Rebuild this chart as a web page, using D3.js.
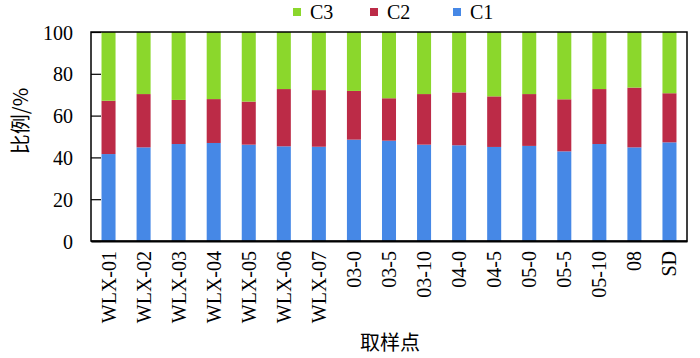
<!DOCTYPE html>
<html><head><meta charset="utf-8">
<script src="https://cdn.jsdelivr.net/npm/d3@7"></script>
<style>body{margin:0;background:#fff}svg{display:block}</style>
</head><body>
<svg id="c" width="700" height="358"></svg>
<script>
const categories = ["WLX-01","WLX-02","WLX-03","WLX-04","WLX-05","WLX-06","WLX-07","03-0","03-5","03-10","04-0","04-5","05-0","05-5","05-10","08","SD"];
const c1 = [41.6,44.8,46.4,46.9,46.1,45.3,45.1,48.5,48.0,46.1,45.8,45.0,45.5,42.9,46.4,44.8,47.2];
const c1c2 = [67.1,70.3,67.5,67.9,66.7,72.7,72.2,71.8,68.3,70.3,71.1,69.2,70.3,67.8,72.7,73.4,70.7];
const c2 = c1c2.map((v,i)=>+(v-c1[i]).toFixed(1));
const c3 = c1c2.map(v=>+(100-v).toFixed(1));
const yTicks = [0,20,40,60,80,100];
const seriesNames = ["C1","C2","C3"];
const legendOrder = ["C3","C2","C1"];
const colors = {C1:"#4688e6", C2:"#bc2b47", C3:"#8bd72c"};

const rows = categories.map((c,i)=>({cat:c, C1:c1[i], C2:c2[i], C3:c3[i]}));
const stack = d3.stack().keys(seriesNames)(rows);

const svg = d3.select("#c");
const m = {l:91, r:687, t:32, b:241};
const x = d3.scaleBand().domain(categories).range([m.l, m.r]).paddingInner(0.6).paddingOuter(0.3);
const y = d3.scaleLinear().domain([0,100]).range([m.b, m.t]);
const serif = "'Liberation Serif','Times New Roman',serif";
const cjk = "'Noto Sans CJK SC','Noto Sans CJK JP',sans-serif";

svg.append("g").selectAll("g").data(stack).join("g")
  .attr("fill", d=>colors[d.key])
  .selectAll("rect").data(d=>d).join("rect")
  .attr("x", d=>x(d.data.cat))
  .attr("width", x.bandwidth())
  .attr("y", d=>y(d[1]))
  .attr("height", d=>y(d[0])-y(d[1]));

// frame
svg.append("rect").attr("x",m.l).attr("y",m.t).attr("width",m.r-m.l).attr("height",m.b-m.t)
  .attr("fill","none").attr("stroke","#000").attr("stroke-width",1.5);

// y axis
const ya = svg.append("g").attr("transform",`translate(${m.l},0)`)
  .call(d3.axisRight(y).tickValues(yTicks).tickSize(10).tickFormat(d3.format("d")));
ya.select(".domain").remove();
ya.selectAll("line").attr("stroke","#000").attr("stroke-width",1.2);
ya.selectAll("text").attr("x",-18).attr("text-anchor","end").attr("dy","0.35em")
  .style("font-family",serif).style("font-size","20px").attr("fill","#000");

// x axis labels
const xa = svg.append("g").attr("transform",`translate(0,${m.b})`)
  .call(d3.axisBottom(x).tickSize(0));
xa.select(".domain").attr("stroke","#000").attr("stroke-width",2);
xa.selectAll("text")
  .attr("transform","rotate(-90)")
  .attr("x",-10).attr("y",0).attr("dy","0.35em")
  .attr("text-anchor","end")
  .style("font-family",serif).style("font-size","20px").attr("fill","#000");

// titles
svg.append("text").attr("transform","translate(21,121) rotate(-90)")
  .attr("text-anchor","middle").attr("dy","0.35em")
  .style("font-family",cjk).style("font-size","20px").text("比例/%");
svg.append("text").attr("x",390).attr("y",343).attr("text-anchor","middle").attr("dy","0.35em")
  .style("font-family",cjk).style("font-size","20px").text("取样点");

// legend
const lx = [293, 370, 453];
const lg = svg.append("g").selectAll("g").data(legendOrder).join("g")
  .attr("transform",(d,i)=>`translate(${lx[i]},12)`);
lg.append("rect").attr("x",0).attr("y",-4).attr("width",8).attr("height",8).attr("fill",d=>colors[d]);
lg.append("text").attr("x",17).attr("y",0).attr("dy","0.35em")
  .style("font-family",serif).style("font-size","20px").text(d=>d);
</script>
</body></html>
